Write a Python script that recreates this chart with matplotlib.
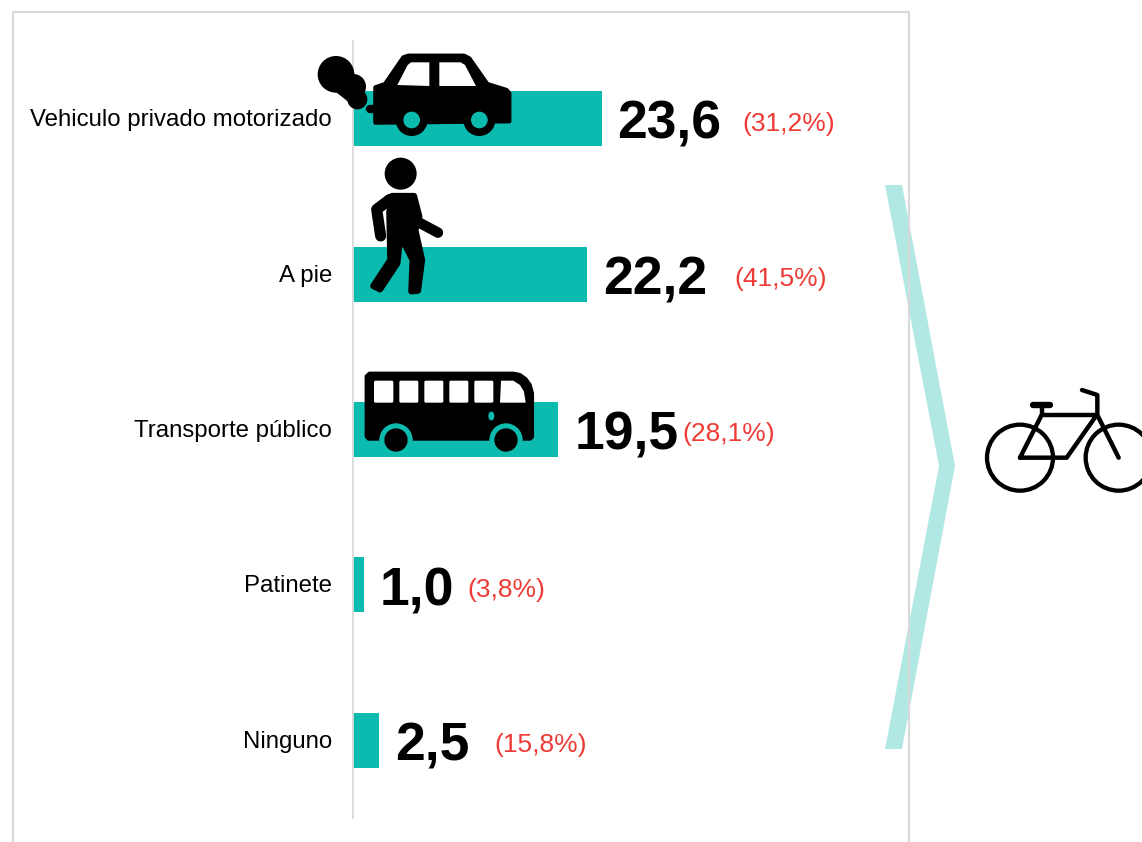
#!/usr/bin/env python
import matplotlib
matplotlib.use('Agg')
import matplotlib.pyplot as plt
from matplotlib.patches import Polygon, Circle, Ellipse
from matplotlib.transforms import ScaledTranslation

categories = ['Vehiculo privado motorizado', 'A pie', 'Transporte público', 'Patinete', 'Ninguno']
values = [23.6, 22.2, 19.5, 1.0, 2.5]
value_labels = ['23,6', '22,2', '19,5', '1,0', '2,5']
share_labels = ['(31,2%)', '(41,5%)', '(28,1%)', '(3,8%)', '(15,8%)']

W, H = 1142, 842
TEAL = '#0BBBB0'
RED = '#EE3B36'
GREY = '#D9D9D9'
PX_PER_UNIT = 10.53
# where the red labels start, px to the right of the bar end
share_offset = [141, 148, 124, 104, 115]

plt.rcParams['font.family'] = ['Liberation Sans', 'DejaVu Sans']

fig = plt.figure(figsize=(W / 100, H / 100), dpi=100, facecolor='white')

# bars
ax = fig.add_axes([353 / W, 1 - 818 / H, 552 / W, 777 / H])
ax.barh(range(len(values)), values, height=0.354, color=TEAL)
ax.set_xlim(0, 552 / PX_PER_UNIT)
ax.set_ylim(len(values) - 0.5, -0.5)
ax.set_yticks(range(len(values)))
ax.set_yticklabels(categories, fontsize=17.3, color='black')
ax.set_xticks([])
ax.tick_params(axis='y', length=0, pad=15)
for t in ax.get_yticklabels():
    t.set_transform(t.get_transform() + ScaledTranslation(0, 1 / 100, fig.dpi_scale_trans))
for s in ['top', 'right', 'bottom']:
    ax.spines[s].set_visible(False)
ax.spines['left'].set_color(GREY)
ax.spines['left'].set_linewidth(1.3)
ax.patch.set_alpha(0)

for i, v in enumerate(values):
    ax.annotate(value_labels[i], (v, i), xytext=(16 * 0.72, -4.5), textcoords='offset points',
                fontsize=38.5, fontweight='bold', color='black', ha='left', va='center')
    ax.annotate(share_labels[i], (v, i), xytext=(share_offset[i] * 0.72, -3.5), textcoords='offset points',
                fontsize=19, color=RED, ha='left', va='center')

# frame, chevron and icons are drawn in pixel coordinates
ov = fig.add_axes([0, 0, 1, 1], zorder=5)
ov.set_xlim(0, W)
ov.set_ylim(H, 0)
ov.axis('off')
ov.patch.set_alpha(0)

ov.plot([13, 13, 908.5, 908.5], [H, 12, 12, H], color=GREY, lw=1.5, solid_joinstyle='miter')
ov.add_patch(Polygon([(885, 185), (902, 185), (955, 466), (902, 749), (885, 749), (939, 466)],
                     closed=True, fc='#B2E8E4', ec='none', zorder=1))


def pts(coords, ox, oy):
    return [(ox + x / 3, oy + y / 3) for x, y in coords]


def shape(coords, ox, oy, color='black', lw=0):
    ov.add_patch(Polygon(pts(coords, ox, oy), closed=True, fc=color, ec=color if lw else 'none',
                         lw=lw, joinstyle='round', zorder=3))


def disc(x, y, r, ox, oy, color='black', z=3):
    ov.add_patch(Circle((ox + x / 3, oy + y / 3), r / 3, fc=color, ec='none', zorder=z))


def stroke(coords, ox, oy, lw):
    xs, ys = zip(*pts(coords, ox, oy))
    ov.plot(xs, ys, color='black', lw=lw, solid_capstyle='round', solid_joinstyle='round', zorder=3)


# car
cx, cy = 310, 40
shape([(196, 142), (225, 132), (280, 52), (295, 47), (462, 47), (478, 55), (532, 132), (590, 150),
       (598, 160), (598, 244), (196, 248)], cx, cy, lw=3)
shape([(262, 135), (293, 75), (303, 67), (358, 67), (358, 138)], cx, cy, color='white')
shape([(388, 67), (452, 67), (465, 75), (498, 138), (388, 138)], cx, cy, color='white')
stroke([(180, 208), (200, 208)], cx, cy, 6)
disc(78, 103, 55, cx, cy)
disc(130, 140, 38, cx, cy)
disc(142, 178, 30, cx, cy)
shape([(70, 150), (125, 100), (168, 170), (118, 188)], cx, cy)
for wx in [305, 508]:
    disc(wx, 240, 48, cx, cy)
    disc(wx, 240, 25, cx, cy, color=TEAL, z=4)

# walker
disc(272, 401, 48, cx, cy)
shape([(246, 468), (312, 468), (328, 530), (316, 570), (336, 660), (324, 752), (304, 754), (308, 660),
       (284, 612), (268, 614), (262, 670), (210, 748), (190, 738), (241, 660), (238, 515)], cx, cy, lw=4.5)
stroke([(240, 478), (200, 508), (212, 588)], cx, cy, 8)
stroke([(328, 548), (384, 578)], cx, cy, 7.5)

# bus
bx, by = 350, 360
shape([(58, 39), (490, 39), (510, 43), (528, 56), (541, 74), (548, 100), (548, 232), (540, 238), (55, 238),
       (48, 230), (48, 48)], bx, by, lw=2)
for wl, wr in [(72, 130), (148, 205), (223, 280), (298, 355), (373, 430)]:
    shape([(wl + 3, 62), (wr - 3, 62), (wr, 65), (wr, 125), (wr - 3, 128), (wl + 3, 128), (wl, 125), (wl, 65)],
          bx, by, color='white')
shape([(453, 62), (490, 62), (510, 75), (522, 95), (527, 128), (450, 128)], bx, by, color='white')
for wx in [138, 468]:
    disc(wx, 240, 50, bx, by, color=TEAL, z=4)
    disc(wx, 240, 35, bx, by, z=5)
ov.add_patch(Ellipse((bx + 424 / 3, by + 168 / 3), 6, 9, fc=TEAL, ec='none', zorder=4))

# bicycle
kx, ky = 880, 370
for wx in [420, 716]:
    ov.add_patch(Circle((kx + wx / 3, ky + 263 / 3), 33, fc='none', ec='black', lw=3.1, zorder=3))
stroke([(420, 263), (560, 263), (650, 135), (485, 135), (420, 263)], kx, ky, 3.2)
stroke([(485, 135), (485, 104)], kx, ky, 3.2)
stroke([(458, 104), (510, 104)], kx, ky, 4.6)
stroke([(716, 263), (652, 135), (652, 75), (606, 60)], kx, ky, 3.2)

fig.savefig('out.png', dpi=100)
